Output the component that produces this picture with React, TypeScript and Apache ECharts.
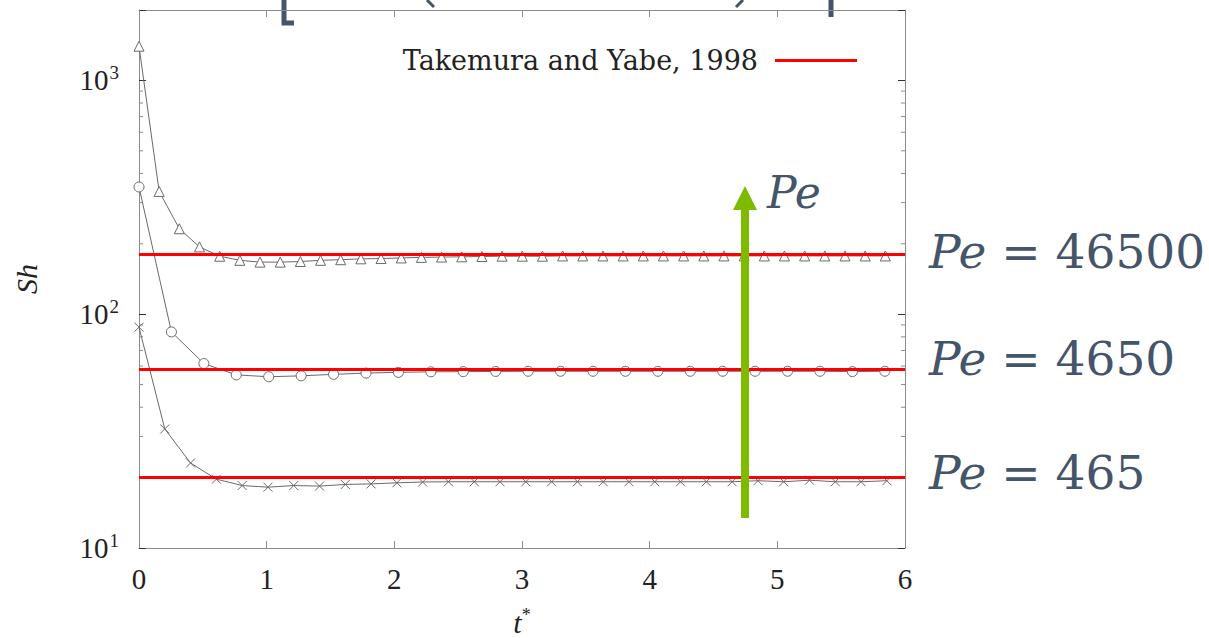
import React, { useEffect, useRef } from "react";
import * as echarts from "echarts";

// ---- data ----
const triT = [0, 0.158, 0.316, 0.474, 0.632, 0.79, 0.948, 1.106, 1.264, 1.422, 1.58, 1.738, 1.896, 2.054, 2.212, 2.37, 2.528, 2.686, 2.844, 3.002, 3.16, 3.318, 3.476, 3.634, 3.792, 3.95, 4.108, 4.266, 4.424, 4.582, 4.74, 4.898, 5.056, 5.214, 5.372, 5.53, 5.688, 5.846];
const triSh = [1400, 335, 232, 194, 177, 170, 167, 167, 168, 170, 171, 172.5, 173, 174, 175, 175.5, 176, 176.5, 177, 177, 177, 177.5, 177.5, 177.5, 177.5, 177.5, 177.5, 177.5, 177.5, 177.5, 177.5, 177.5, 177.5, 177.5, 177.5, 177.5, 177.5, 177.5];

const circT = [0, 0.254, 0.508, 0.762, 1.016, 1.27, 1.524, 1.778, 2.032, 2.286, 2.54, 2.794, 3.048, 3.302, 3.556, 3.81, 4.064, 4.318, 4.572, 4.826, 5.08, 5.334, 5.588, 5.842];
const circSh = [350, 84, 61.5, 55, 54, 54.5, 55.3, 56, 56.4, 56.7, 56.8, 56.9, 57, 57, 57, 57, 57, 57, 57, 57, 57, 57, 56.8, 57];

const crossT = [0, 0.202, 0.404, 0.606, 0.808, 1.01, 1.212, 1.414, 1.616, 1.818, 2.02, 2.222, 2.424, 2.626, 2.828, 3.03, 3.232, 3.434, 3.636, 3.838, 4.04, 4.242, 4.444, 4.646, 4.848, 5.05, 5.252, 5.454, 5.656, 5.858];
const crossSh = [88, 32.3, 23.1, 19.7, 18.5, 18.2, 18.5, 18.4, 18.7, 18.8, 19.0, 19.15, 19.2, 19.2, 19.2, 19.2, 19.2, 19.2, 19.2, 19.2, 19.2, 19.2, 19.2, 19.2, 19.4, 19.2, 19.5, 19.2, 19.2, 19.4];

const refName = "Takemura and Yabe, 1998";
const refT = [0, 6];
const refSh = [180, 58, 20];

const peLabels = ["46500", "4650", "465"];
const minorTicks = [20, 30, 40, 50, 60, 70, 80, 90, 200, 300, 400, 500, 600, 700, 800, 900];

const zip = (xs: number[], ys: number[]) => xs.map((x, i) => [x, ys[i]]);

const GRAY = "#6a6a6a";
const AXIS = "#8c8c8c";
const SLATE = "#44546a";
const SERIF = "'DejaVu Serif', 'Liberation Serif', serif";
const TIMES = "'Liberation Serif', 'DejaVu Serif', serif";

export default function App() {
  const ref = useRef<HTMLDivElement>(null);
  useEffect(() => {
    if (!ref.current) return;
    const chart = echarts.init(ref.current, undefined, { renderer: "svg" });

    const dataLine = (name: string, t: number[], v: number[], symbol: string, size: number) => ({
      name,
      type: "line",
      data: zip(t, v),
      symbol,
      symbolSize: size,
      showAllSymbol: true,
      lineStyle: { color: GRAY, width: 1 },
      itemStyle: {
        color: symbol.startsWith("path") ? "none" : "#fff",
        borderColor: GRAY,
        borderWidth: 1,
      },
      z: 3,
    });

    const refLines = refSh.map((v) => ({
      name: refName,
      type: "line",
      data: refT.map((t) => [t, v]),
      symbol: "none",
      lineStyle: { color: "#ff0000", width: 3 },
      itemStyle: { color: "#ff0000" },
      z: 5,
    }));

    const yBase = {
      type: "log",
      logBase: 10,
      min: 10,
      max: 2000,
      axisLine: { show: true, onZero: false, lineStyle: { color: AXIS, width: 1 } },
      axisTick: { show: true, inside: true, length: 7, lineStyle: { color: "#333" } },
      splitLine: { show: false },
    };
    const xBase = {
      type: "value",
      min: 0,
      max: 6,
      interval: 1,
      axisLine: { show: true, onZero: false, lineStyle: { color: AXIS, width: 1 } },
      axisTick: { show: true, inside: true, length: 7, lineStyle: { color: AXIS } },
      splitLine: { show: false },
    };

    const option: any = {
      animation: false,
      backgroundColor: "#fff",
      grid: { left: 139, right: 304, top: 10, bottom: 90, containLabel: false, outerBoundsMode: "none" },
      legend: {
        data: [refName],
        right: 347,
        top: 42,
        icon: "rect",
        itemWidth: 82,
        itemHeight: 3,
        align: "right",
        textStyle: { fontFamily: SERIF, fontSize: 27, color: "#222", padding: [0, 12, 0, 0] },
      },
      xAxis: [
        {
          ...xBase,
          position: "bottom",
          name: "{i|t}{s|*}",
          nameLocation: "middle",
          nameGap: 58,
          nameTextStyle: {
            rich: {
              i: { fontFamily: TIMES, fontStyle: "italic", fontSize: 30, color: "#222" },
              s: { fontFamily: TIMES, fontSize: 18, color: "#222", padding: [0, 0, 14, 0] },
            },
          },
          axisLabel: { margin: 16, fontFamily: TIMES, fontSize: 29, color: "#222" },
        },
        { ...xBase, position: "top", axisLabel: { show: false } },
      ],
      yAxis: [
        {
          ...yBase,
          position: "left",
          name: "Sh",
          nameLocation: "middle",
          nameGap: 98,
          nameRotate: 90,
          nameTextStyle: { fontFamily: TIMES, fontStyle: "italic", fontSize: 30, color: "#222" },
          axisLabel: {
            margin: 20,
            formatter: (v: number) => {
              const e = Math.log10(v);
              if (Math.abs(e - Math.round(e)) > 1e-6) return "";
              return "{b|10}{s|" + Math.round(e) + "}";
            },
            rich: {
              b: { fontFamily: TIMES, fontSize: 29, color: "#222" },
              s: { fontFamily: TIMES, fontSize: 19, color: "#222", padding: [0, 0, 15, 1] },
            },
          },
        },
        { ...yBase, position: "right", axisLabel: { show: false } },
      ],
      series: [
        dataLine("Pe = 46500", triT, triSh, "triangle", 10),
        dataLine("Pe = 4650", circT, circSh, "circle", 10),
        dataLine("Pe = 465", crossT, crossSh, "path://M0,0L10,10M10,0L0,10", 9),
        ...refLines,
        {
          name: "minor",
          type: "custom",
          data: minorTicks.map((v) => [0, v]),
          silent: true,
          clip: false,
          z: 2,
          renderItem: (params: any, api: any) => {
            const v = api.value(1);
            const l = api.coord([0, v]);
            const r = api.coord([6, v]);
            const st = { stroke: AXIS, lineWidth: 1 };
            return {
              type: "group",
              children: [
                { type: "line", shape: { x1: l[0], y1: l[1], x2: l[0] + 4, y2: l[1] }, style: st },
                { type: "line", shape: { x1: r[0] - 4, y1: r[1], x2: r[0], y2: r[1] }, style: st },
              ],
            };
          },
        },
      ],
      graphic: [
        // cut-off formula fragments at the very top
        { type: "polyline", shape: { points: [[284, 0], [284, 23], [294, 23]] }, style: { stroke: SLATE, lineWidth: 5, fill: null } },
        { type: "line", shape: { x1: 427, y1: 0, x2: 434, y2: 7 }, style: { stroke: SLATE, lineWidth: 3 } },
        { type: "line", shape: { x1: 743, y1: 0, x2: 736, y2: 7 }, style: { stroke: SLATE, lineWidth: 3 } },
        { type: "line", shape: { x1: 831, y1: 0, x2: 831, y2: 17 }, style: { stroke: SLATE, lineWidth: 5 } },
        // green arrow
        { type: "rect", shape: { x: 741, y: 208, width: 8, height: 310 }, style: { fill: "#7ebb00" }, z: 10 },
        { type: "polygon", shape: { points: [[745, 186], [733, 210], [757, 210]] }, style: { fill: "#7ebb00" }, z: 10 },
        {
          type: "text",
          x: 767,
          y: 170,
          style: { text: "Pe", font: `italic 44px ${SERIF}`, fill: SLATE },
          z: 10,
        },
        ...peLabels.map((p, i) => ({
          type: "text",
          x: 929,
          y: [228, 335, 449][i],
          style: {
            text: `{i|Pe} = ${p}`,
            font: `47px ${SERIF}`,
            fill: SLATE,
            rich: { i: { font: `italic 47px ${SERIF}`, fill: SLATE } },
          },
          z: 10,
        })),
      ],
    };
    chart.setOption(option);
    return () => chart.dispose();
  }, []);
  return <div ref={ref} style={{ position: "fixed", left: 0, top: 0, width: 1209, height: 638 }} />;
}
